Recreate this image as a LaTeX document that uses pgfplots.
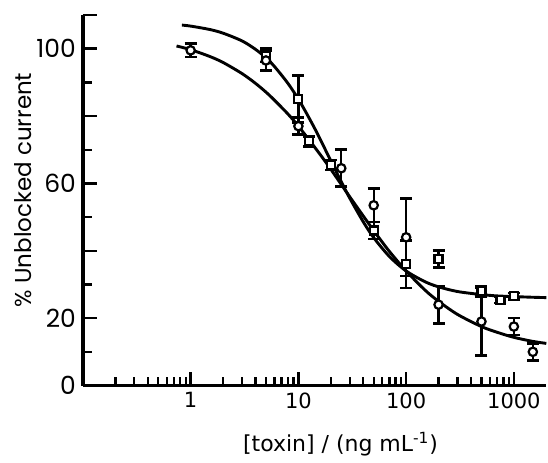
\documentclass[border=0pt]{standalone}
\usepackage{fontspec}
\setmainfont{Poppins}
\newfontfamily\dejavu{DejaVu Sans}
\usepackage{pgfplots}
\usepackage{pgfplotstable}
\pgfplotsset{compat=1.18}

% circles: mean and error
\pgfplotstableread{
x     y     err
1     99.5  2
5     96.5  3
10    77    2.5
25    64.5  5.5
50    53.5  5
100   44    11.5
200   24    5.6
500   19    10
1000  17.5  2.5
1500  10    2.5
}\circles

% squares: mean and error
\pgfplotstableread{
x     y     err
5     98    2
10    85    7
12.5  72.5  1.5
20    65.5  1.5
50    46    2.5
100   36    7
200   37.5  2.5
500   28    1.5
750   25.5  1
1000  26.5  1
}\squares

% fitted curve through the squares
\pgfplotstableread{
x     y
0.83  107.0
1     106.7
1.5   105.7
2     104.6
3     102.3
4     99.8
5     97.3
6     94.7
8     89.7
10    85.0
12    80.6
15    74.8
20    66.7
25    60.5
30    55.6
40    48.6
50    43.9
70    38.3
100   34.0
150   30.8
200   29.3
300   27.9
500   27.0
700   26.6
1000  26.4
1500  26.2
2000  26.1
}\fitsq

% fitted curve through the circles
\pgfplotstableread{
x     y
0.74  100.8
1     99.7
1.5   97.7
2     95.9
3     92.6
4     89.7
5     87.1
6     84.7
8     80.6
10    77.0
15    69.7
20    64.2
30    56.0
50    46.0
70    39.8
100   34.0
150   28.3
200   25.0
300   21.1
500   17.5
700   15.8
1000  14.3
1500  13.1
2000  12.5
}\fitci

\begin{document}
\begin{tikzpicture}
\begin{axis}[
  scale only axis,
  width=232pt, height=185.5pt,
  xmode=log, log basis x=10,
  xmin=0.1, xmax=2000,
  ymin=0, ymax=110,
  axis x line=bottom, axis y line=left,
  axis line style={-, line width=1.7pt},
  tick align=inside,
  major tick length=7pt, minor tick length=4.5pt,
  every tick/.style={black, line width=1.2pt},
  xtick={1,10,100,1000},
  xticklabels={1,10,100,1000},
  minor xtick={0.2,0.3,0.4,0.5,0.6,0.7,0.8,0.9,2,3,4,5,6,7,8,9,20,30,40,50,60,70,80,90,200,300,400,500,600,700,800,900},
  ytick={0,20,40,60,80,100,110},
  yticklabels={0,20,,60,,100,},
  minor ytick={10,30,50,70,90},
  /pgf/number format/assume math mode=true,
  xticklabel style={font=\dejavu\fontsize{10.5}{12}\selectfont},
  yticklabel style={font=\fontsize{12.5}{14}\selectfont},
  xlabel={[toxin] / (ng mL\textsuperscript{-1})},
  xlabel style={font=\dejavu\fontsize{11}{13}\selectfont, at={(axis description cs:0.556,-0.159)}, anchor=center},
  ylabel={\% Unblocked current},
  ylabel style={font=\fontsize{11.5}{13}\selectfont, at={(axis description cs:-0.1293,0.528)}, anchor=center},
  clip=false,
]
\coordinate (O) at (rel axis cs:0,0);

\addplot[black, line width=1.45pt, smooth] table {\fitsq};
\addplot[black, line width=1.45pt, smooth] table {\fitci};

\addplot[black, only marks, mark=square*, mark size=2pt,
  mark options={fill=white, line width=1.1pt},
  error bars/.cd, y dir=both, y explicit,
  error bar style={line width=1.2pt},
  error mark options={rotate=90, mark size=3pt, line width=1.3pt}]
  table[x=x, y=y, y error=err] {\squares};

\addplot[black, only marks, mark=*, mark size=2.1pt,
  mark options={fill=white, line width=1.1pt},
  error bars/.cd, y dir=both, y explicit,
  error bar style={line width=1.2pt},
  error mark options={rotate=90, mark size=3pt, line width=1.3pt}]
  table[x=x, y=y, y error=err] {\circles};
\end{axis}
\path ([shift={(-41.5pt,-35.5pt)}]O) rectangle ([shift={(232.5pt,193pt)}]O);
\end{tikzpicture}
\end{document}
